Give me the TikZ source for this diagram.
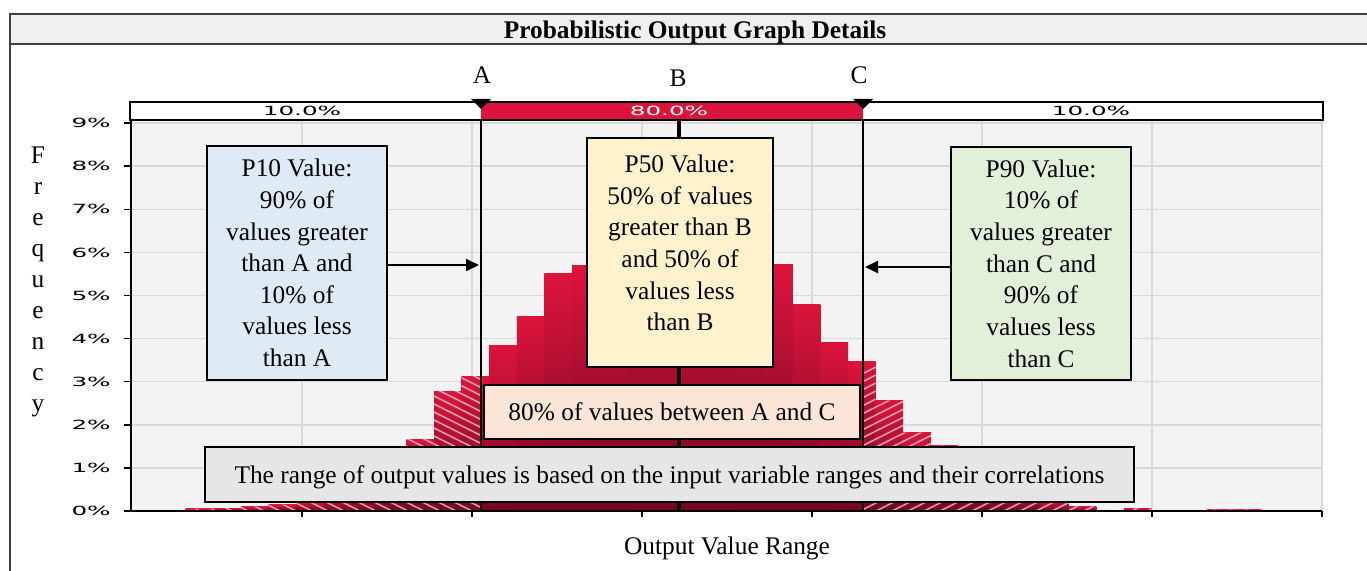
\documentclass[tikz,border=0pt]{standalone}
\usepackage{fontspec}
\setmainfont{Liberation Serif}
\newfontfamily\tickfont{DejaVu Sans}
\usetikzlibrary{arrows.meta}
\definecolor{crim}{RGB}{220,20,60}
\definecolor{darkcrim}{RGB}{112,8,30}
\definecolor{plotbg}{RGB}{243,243,243}
\definecolor{gridc}{RGB}{217,217,217}
\definecolor{titlebg}{RGB}{240,240,240}
\definecolor{blueb}{RGB}{222,235,247}
\definecolor{yellowb}{RGB}{255,242,204}
\definecolor{greenb}{RGB}{226,240,217}
\definecolor{peachb}{RGB}{251,229,214}
\definecolor{grayb}{RGB}{230,230,230}
\tikzset{
  px/.style={x=0.02cm,y=-0.02cm},
  txt/.style={font=\fontsize{14.45}{18}\selectfont, align=center, inner sep=0pt},
  infobox/.style={draw=black, line width=1.1pt, inner sep=0pt, txt},
  ticklab/.style={font=\tickfont\fontsize{7.2}{8}\selectfont, inner sep=0pt},
  gridline/.style={gridc, line width=0.85pt},
  markerline/.style={black, line width=0.9pt},
  arr/.style={-{Triangle[length=0.26cm,width=0.24cm]}, line width=1.1pt},
  stripe/.style={white, opacity=0.65, line width=0.8pt},
  barshade/.style={top color=crim, bottom color=darkcrim},
}
\begin{document}
\begin{tikzpicture}[px]
\useasboundingbox (0,0) rectangle (1367,571);
\fill[white] (0,0) rectangle (1367,571);
% frame and title bar
\fill[titlebg] (10,14) rectangle (1367,44);
\draw[line width=1pt, black!75] (1367,14) -- (10,14) -- (10,571);
\draw[line width=1pt, black!75] (10,44) -- (1367,44);
\node[font=\bfseries\fontsize{14.45}{17}\selectfont, inner sep=0pt] (title) at (695,32) {Probabilistic Output Graph Details};
% plot background and grid
\fill[plotbg] (132,121) rectangle (1322,511);
\foreach \i in {1,...,9} \draw[gridline] (132,511-43.1*\i) -- (1322,511-43.1*\i);
\foreach \x in {302,472,642,812,982,1152,1322} \draw[gridline] (\x,121) -- (\x,511);
% histogram bars
\foreach \x/\t in {158/510.1,185.6/508.8,213.2/508.0,240.8/506.7,268.4/504.5,296/501.5,323.6/497.2,351.2/489.4,378.8/463.6,406.4/439.0,434/391.2,461.6/376.1,489.2/345.9,516.8/316.2,544.4/273.9,572/265.8,599.6/256.7,627.2/248.1,654.8/241.6,682.4/241.6,710/248.1,737.6/256.7,765.2/264.9,792.8/304.1,820.4/342.9,848/361.9,875.6/400.7,903.2/432.6,930.8/445.5,958.4/459.3,986/476.5,1013.6/489.4,1041.2/500.2,1068.8/506.3,1096.4/509.7,1124/508.4,1151.6/510.6,1179.2/510.1,1206.8/509.3,1234.4/509.3}
  \shade[barshade] (\x,\t) rectangle (\x+27.6,511);
% stripes on left tail
\begin{scope}
\clip (150,300) rectangle (481,511);
\clip (158,511) |- (185.6,510.1) |- (213.2,508.8) |- (240.8,508.0) |- (268.4,506.7) |- (296,504.5) |- (323.6,501.5) |- (351.2,497.2) |- (378.8,489.4) |- (406.4,463.6) |- (434,439.0) |- (461.6,391.2) |- (489.2,376.1) -- (489.2,511) -- cycle;
\foreach \c in {0,...,60} \draw[stripe] (150,150+8*\c) -- ++(400,200);
\end{scope}
% stripes on right tail
\begin{scope}
\clip (863,300) rectangle (1270,511);
\clip (848,511) -- (848,361.9) -| (875.6,400.7) -| (903.2,432.6) -| (930.8,445.5) -| (958.4,459.3) -| (986,476.5) -| (1013.6,489.4) -| (1041.2,500.2) -| (1068.8,506.3) -| (1096.4,509.7) -| (1124,508.4) -| (1151.6,510.6) -| (1179.2,510.1) -| (1206.8,509.3) -| (1262,511) -- cycle;
\foreach \c in {0,...,60} \draw[stripe] (850,380+8*\c) -- ++(450,-225);
\end{scope}
% axes
\draw[line width=1.1pt] (131,121) -- (131,511) -- (1322,511);
\foreach \i in {0,...,9} {
  \draw[line width=0.8pt] (124,511-43.1*\i) -- (131,511-43.1*\i);
  \node[ticklab, anchor=east] (yl\i) at (111,511-43.1*\i) {\scalebox{1.95}[1]{\i\%}};
}
\foreach \x in {302,472,642,812,982,1152,1322} \draw[line width=0.8pt] (\x,511) -- (\x,517);
% marker lines
\coordinate (atop) at (481,105);
\coordinate (abot) at (481,511);
\coordinate (ctop) at (863,105);
\coordinate (cbot) at (863,511);
\coordinate (btop) at (679,118);
\coordinate (bbot) at (679,511);
\draw[markerline] (atop) -- (abot);
\draw[markerline] (ctop) -- (cbot);
\draw[line width=2.3pt] (btop) -- (bbot);
% percentage bar
\fill[white] (130,102) rectangle (1323,120);
\fill[crim] (481,102) rectangle (863,120);
\draw[line width=0.9pt] (130,102) rectangle (1323,120);
\draw[line width=1.4pt] (1323,102) -- (1323,120);
\node[ticklab] (pl) at (302,111) {\scalebox{1.95}[1]{10.0\%}};
\node[ticklab, text=white] (pm) at (669,111) {\scalebox{1.95}[1]{80.0\%}};
\node[ticklab] (pr) at (1091,111) {\scalebox{1.95}[1]{10.0\%}};
\fill (471,99) -- (491,99) -- (481,109) -- cycle;
\fill (853,99) -- (873,99) -- (863,109) -- cycle;
\node[txt] (la) at (482,75) {A};
\node[txt] (lb) at (678,78) {B};
\node[txt] (lc) at (859,75) {C};
% boxes
\node[infobox, fill=blueb, minimum width=3.6cm, minimum height=4.68cm] (p10) at (297,263) {P10 Value:\\90\% of\\values greater\\than A and\\10\% of\\values less\\than A};
\node[infobox, fill=yellowb, minimum width=3.72cm, minimum height=4.58cm] (p50) at (680,252.5) {};
\node[txt] (p50t) at (680,243) {P50 Value:\\50\% of values\\greater than B\\and 50\% of\\values less\\than B};
\node[infobox, fill=greenb, minimum width=3.6cm, minimum height=4.66cm] (p90) at (1041,263.5) {P90 Value:\\10\% of\\values greater\\than C and\\90\% of\\values less\\than C};
\node[infobox, fill=peachb, minimum width=7.52cm, minimum height=1.08cm, text depth=0pt] (mid) at (672,412) {80\% of values between A and C};
\node[infobox, fill=grayb, minimum width=18.58cm, minimum height=1.1cm, text depth=0pt] (range) at (669.5,474.5) {The range of output values is based on the input variable ranges and their correlations};
% arrows
\coordinate (atip) at (479,265);
\coordinate (ctip) at (865,267);
\draw[arr] (p10.east |- atip) -- (atip);
\draw[arr] (p90.west |- ctip) -- (ctip);
% axis titles
\node[txt, font=\fontsize{14.45}{17.6}\selectfont] (freq) at (38,282) {F\\r\\e\\q\\u\\e\\n\\c\\y};
\node[txt] (xlab) at (727,548) {Output Value Range};
\end{tikzpicture}
\end{document}
